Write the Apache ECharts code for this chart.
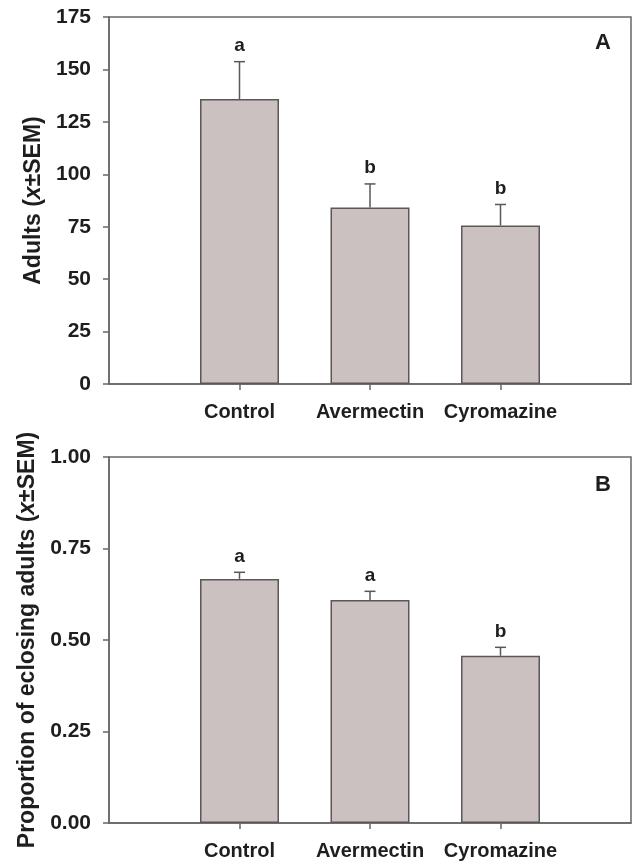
<!DOCTYPE html>
<html>
<head>
<meta charset="utf-8">
<script src="https://cdn.jsdelivr.net/npm/echarts@6/dist/echarts.min.js"></script>
<style>
html,body{margin:0;padding:0;background:#fff;}
#chart{width:634px;height:862px;}
</style>
</head>
<body>
<div id="chart"></div>
<script>
// ---- data ----
const categories = ['Control', 'Avermectin', 'Cyromazine'];
const adultsMean = [135.9, 84.2, 75.6];
const adultsSem = [17.8, 11.2, 10.0];
const adultsLetters = ['a', 'b', 'b'];
const propMean = [0.667, 0.609, 0.457];
const propSem = [0.018, 0.024, 0.023];
const propLetters = ['a', 'a', 'b'];
const adultsTicks = {min: 0, max: 175, interval: 25};
const propTicks = {min: 0, max: 1, interval: 0.25};

// ---- styles ----
const FONT = '"Liberation Sans", Arial, sans-serif';
const TXT = '#1e1e1e';
const LINE = '#6a6566';
const BAR_FILL = '#cac1c0';
const BAR_EDGE = '#5b5658';

const slots = [''].concat(categories, ['']);

function xAxisDef(gridIndex) {
  return {
    type: 'category', gridIndex: gridIndex, data: slots, boundaryGap: false,
    axisLine: {lineStyle: {color: LINE, width: 1.5}},
    axisTick: {show: true, length: 6, lineStyle: {color: LINE, width: 1.5},
      interval: function (i) { return i >= 1 && i <= categories.length; }},
    axisLabel: {interval: 0, margin: 18, color: TXT, fontFamily: FONT, fontWeight: 'bold', fontSize: 20},
    splitLine: {show: false}
  };
}
function yAxisDef(gridIndex, t, name, fmt) {
  return {
    type: 'value', gridIndex: gridIndex, min: t.min, max: t.max, interval: t.interval,
    name: name, nameLocation: 'middle', nameGap: 62, nameRotate: 90,
    nameTextStyle: {color: TXT, fontFamily: FONT, fontWeight: 'bold', fontSize: 23,
      rich: {i: {fontStyle: 'italic', fontWeight: 'bold', fontFamily: FONT, fontSize: 23, color: TXT}}},
    axisLine: {show: true, lineStyle: {color: LINE, width: 1.5}},
    axisTick: {show: true, length: 6, inside: false, lineStyle: {color: LINE, width: 1.5}},
    axisLabel: {margin: 18, color: TXT, fontFamily: FONT, fontWeight: 'bold', fontSize: 21, formatter: fmt},
    splitLine: {show: false}
  };
}
function barSeries(idx, means) {
  return {
    type: 'bar', xAxisIndex: idx, yAxisIndex: idx, barWidth: 79,
    data: categories.map((c, i) => [c, means[i]]),
    itemStyle: {color: BAR_FILL, borderColor: BAR_EDGE, borderWidth: 1.5},
    z: 2, silent: true
  };
}
function errSeries(idx, means, sems, letters) {
  return {
    type: 'custom', xAxisIndex: idx, yAxisIndex: idx, z: 3, silent: true,
    data: categories.map((c, i) => [i + 1, means[i], means[i] + sems[i], letters[i]]),
    renderItem: function (params, api) {
      const base = api.coord([api.value(0), api.value(1)]);
      const top = api.coord([api.value(0), api.value(2)]);
      const cap = 5.5;
      const st = {stroke: BAR_EDGE, lineWidth: 1.5};
      return {
        type: 'group',
        children: [
          {type: 'line', shape: {x1: base[0], y1: base[1], x2: top[0], y2: top[1]}, style: st},
          {type: 'line', shape: {x1: top[0] - cap, y1: top[1], x2: top[0] + cap, y2: top[1]}, style: st},
          {type: 'text', x: top[0], y: top[1] - 16,
            style: {text: letters[params.dataIndex], fill: TXT, font: 'bold 19px ' + FONT,
              textAlign: 'center', textVerticalAlign: 'middle'}}
        ]
      };
    }
  };
}

const chart = echarts.init(document.getElementById('chart'), null, {renderer: 'canvas'});
chart.setOption({
  backgroundColor: '#ffffff',
  animation: false,
  grid: [
    {left: 109, top: 17, width: 523, height: 367, show: true, borderColor: LINE, borderWidth: 1.5, backgroundColor: 'transparent'},
    {left: 109, top: 457, width: 523, height: 366, show: true, borderColor: LINE, borderWidth: 1.5, backgroundColor: 'transparent'}
  ],
  xAxis: [xAxisDef(0), xAxisDef(1)],
  yAxis: [
    yAxisDef(0, adultsTicks, 'Adults ({i|x}±SEM)', v => String(v)),
    yAxisDef(1, propTicks, 'Proportion of eclosing adults ({i|x}±SEM)', v => v.toFixed(2))
  ],
  graphic: [
    {type: 'text', x: 603, y: 43, style: {text: 'A', fill: TXT, font: 'bold 22px ' + FONT, textAlign: 'center', textVerticalAlign: 'middle'}},
    {type: 'text', x: 603, y: 485, style: {text: 'B', fill: TXT, font: 'bold 22px ' + FONT, textAlign: 'center', textVerticalAlign: 'middle'}}
  ],
  series: [
    barSeries(0, adultsMean), errSeries(0, adultsMean, adultsSem, adultsLetters),
    barSeries(1, propMean), errSeries(1, propMean, propSem, propLetters)
  ]
});
</script>
</body>
</html>
